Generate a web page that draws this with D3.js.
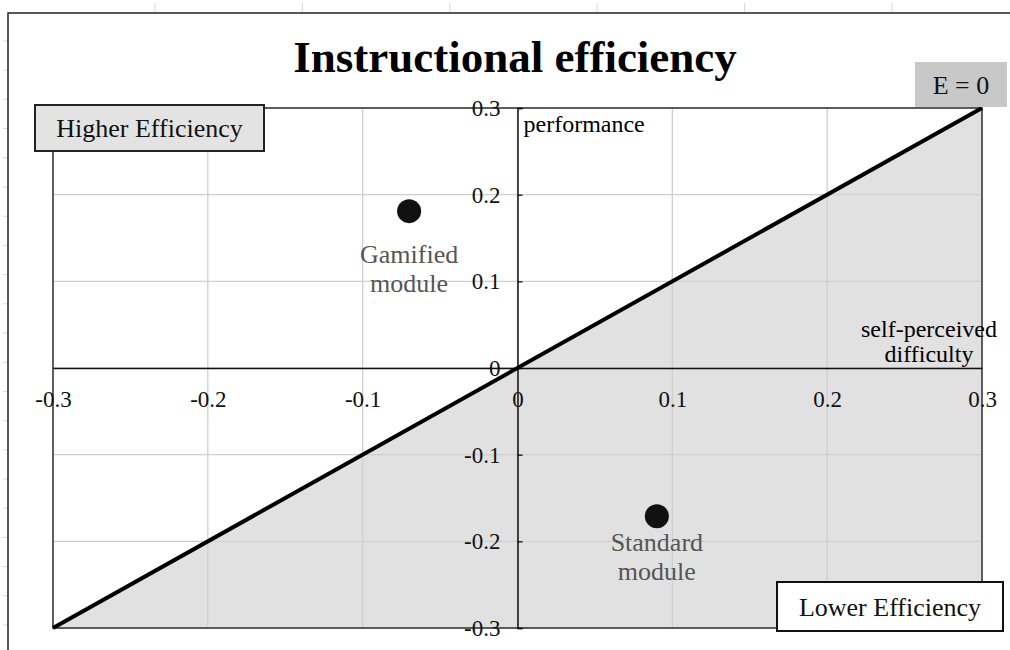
<!DOCTYPE html>
<html>
<head>
<meta charset="utf-8">
<script src="https://cdn.jsdelivr.net/npm/d3@7"></script>
<style>
  body { margin: 0; background: #fff; }
  svg { display: block; font-family: "Liberation Serif", "Times New Roman", serif; }
</style>
</head>
<body>
<svg width="1010" height="650"></svg>
<script>
// data
const ticks = [-0.3, -0.2, -0.1, 0, 0.1, 0.2, 0.3];
const tickLabels = ["-0.3", "-0.2", "-0.1", "0", "0.1", "0.2", "0.3"];
const modules = ["Gamified module", "Standard module"];
const difficulty = [-0.07, 0.09];
const performance = [0.181, -0.171];
const lineE0 = [[-0.3, -0.3], [0.3, 0.3]];

const svg = d3.select("svg");
const margin = {top: 108, left: 53, right: 28, bottom: 22},
    width = +svg.attr("width") - margin.left - margin.right,
    height = +svg.attr("height") - margin.top - margin.bottom;

const x = d3.scaleLinear().domain([-0.3, 0.3]).range([margin.left, margin.left + width]);
const y = d3.scaleLinear().domain([-0.3, 0.3]).range([margin.top + height, margin.top]);

// spreadsheet-ish frame behind the chart
svg.append("g").selectAll("line")
    .data(d3.range(6))
    .enter().append("line")
    .attr("x1", i => 155 + i * 147.4).attr("x2", i => 155 + i * 147.4)
    .attr("y1", 3).attr("y2", 13)
    .attr("stroke", "#d8d8d8");
svg.append("g").selectAll("line")
    .data(d3.range(21))
    .enter().append("line")
    .attr("x1", 3).attr("x2", 8)
    .attr("y1", i => 41 + i * 29.2).attr("y2", i => 41 + i * 29.2)
    .attr("stroke", "#d8d8d8");
svg.append("path")
    .attr("d", "M8,650V13H1010")
    .attr("fill", "none")
    .attr("stroke", "#222")
    .attr("stroke-width", 1.5);

// title
svg.append("text")
    .attr("x", 515).attr("y", 72)
    .attr("text-anchor", "middle")
    .attr("font-size", 45)
    .attr("font-weight", "bold")
    .text("Instructional efficiency");

// lower-efficiency area under E = 0
svg.append("path")
    .datum([[-0.3, -0.3], [0.3, 0.3], [0.3, -0.3]])
    .attr("d", d3.line().x(d => x(d[0])).y(d => y(d[1])))
    .attr("fill", "#e1e1e1");

// grid
const grid = svg.append("g").attr("stroke", "#cfcfcf").attr("stroke-width", 1.3);
grid.selectAll(".gx")
    .data(ticks)
    .enter().append("line")
    .attr("x1", d => x(d)).attr("x2", d => x(d))
    .attr("y1", y(0.3)).attr("y2", y(-0.3));
grid.selectAll(".gy")
    .data(ticks)
    .enter().append("line")
    .attr("x1", x(-0.3)).attr("x2", x(0.3))
    .attr("y1", d => y(d)).attr("y2", d => y(d));

// plot border
svg.append("rect")
    .attr("x", x(-0.3)).attr("y", y(0.3))
    .attr("width", x(0.3) - x(-0.3)).attr("height", y(-0.3) - y(0.3))
    .attr("fill", "none")
    .attr("stroke", "#333")
    .attr("stroke-width", 1.5);

// axes through origin
const xaxis = svg.append("g")
    .attr("transform", "translate(0," + y(0) + ")")
    .call(d3.axisBottom(x).tickValues(ticks).tickSize(0).tickPadding(23)
        .tickFormat((d, i) => tickLabels[i]));
const yaxis = svg.append("g")
    .attr("transform", "translate(" + x(0) + ",0)")
    .call(d3.axisRight(y).tickValues(ticks).tickSize(5).tickPadding(-22)
        .tickFormat((d, i) => tickLabels[i]));
[xaxis, yaxis].forEach(a => {
    a.select(".domain").attr("stroke", "#111").attr("stroke-width", 1.5);
    a.selectAll("line").attr("stroke", "#111").attr("stroke-width", 1.3);
    a.selectAll("text")
        .attr("font-family", "Liberation Serif, Times New Roman, serif")
        .attr("font-size", 23)
        .attr("fill", "#111");
});
yaxis.selectAll("text").attr("text-anchor", "end").attr("dy", "0.32em");
xaxis.selectAll("text").attr("dy", "0.71em");

// E = 0 line
svg.append("path")
    .datum(lineE0)
    .attr("d", d3.line().x(d => x(d[0])).y(d => y(d[1])))
    .attr("fill", "none")
    .attr("stroke", "#000")
    .attr("stroke-width", 4);

// axis titles
svg.append("text")
    .attr("x", x(0) + 6).attr("y", y(0.3) + 24)
    .attr("font-size", 24)
    .text("performance");
const sp = svg.append("text")
    .attr("x", 929).attr("y", y(0) - 31)
    .attr("text-anchor", "middle")
    .attr("font-size", 24);
sp.append("tspan").attr("x", 929).text("self-perceived");
sp.append("tspan").attr("x", 929).attr("dy", 25).text("difficulty");

// points
svg.selectAll(".pt")
    .data(modules)
    .enter().append("circle")
    .attr("cx", (d, i) => x(difficulty[i]))
    .attr("cy", (d, i) => y(performance[i]))
    .attr("r", 12)
    .attr("fill", "#111");
svg.selectAll(".pl")
    .data(modules)
    .enter().append("text")
    .attr("text-anchor", "middle")
    .attr("font-size", 26)
    .attr("fill", "#555")
    .each(function(d, i) {
        const t = d3.select(this);
        const cx = x(difficulty[i]);
        const cy = y(performance[i]);
        const parts = d.split(" ");
        t.append("tspan").attr("x", cx).attr("y", cy + (i == 0 ? 52 : 35)).text(parts[0]);
        t.append("tspan").attr("x", cx).attr("dy", 29).text(parts[1]);
    });

// boxes
function box(bx, by, bw, bh, fill, stroke, label) {
    const g = svg.append("g");
    g.append("rect")
        .attr("x", bx).attr("y", by).attr("width", bw).attr("height", bh)
        .attr("fill", fill)
        .attr("stroke", stroke || "none")
        .attr("stroke-width", 2);
    g.append("text")
        .attr("x", bx + bw / 2).attr("y", by + bh / 2)
        .attr("dy", "0.35em")
        .attr("text-anchor", "middle")
        .attr("font-size", 26)
        .attr("fill", "#111")
        .text(label);
}
box(35, 105, 229, 46, "#e3e3e3", "#222", "Higher Efficiency");
box(915, 62, 92, 45, "#c8c8c8", null, "E = 0");
box(777, 582, 226, 49, "#fff", "#111", "Lower Efficiency");
</script>
</body>
</html>
